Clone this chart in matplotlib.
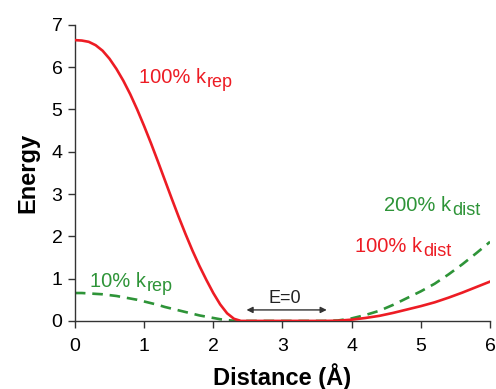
#!/usr/bin/env python3

import matplotlib
matplotlib.use("Agg")
import matplotlib.pyplot as plt

plt.rcParams['font.family'] = ['Liberation Sans', 'DejaVu Sans']

# Repulsive part (left)
x_rep = [0.0, 0.1, 0.2, 0.3, 0.4, 0.5, 0.6, 0.7, 0.8, 0.9, 1.0, 1.1, 1.2,
         1.3, 1.4, 1.5, 1.6, 1.7, 1.8, 1.9, 2.0, 2.1, 2.2, 2.3, 2.4]
red_rep = [6.64, 6.63, 6.60, 6.52, 6.39, 6.20, 5.96, 5.68, 5.36, 5.00, 4.61,
           4.20, 3.77, 3.33, 2.89, 2.46, 2.05, 1.66, 1.30, 0.97, 0.66, 0.39,
           0.18, 0.05, 0.0]
green_rep = [0.66, 0.66, 0.65, 0.64, 0.63, 0.61, 0.59, 0.56, 0.53, 0.50, 0.46,
             0.42, 0.38, 0.33, 0.29, 0.25, 0.21, 0.17, 0.13, 0.10, 0.07, 0.04,
             0.02, 0.005, 0.0]

# Distance restraint part (right)
x_dist = [3.6, 3.8, 4.0, 4.2, 4.4, 4.6, 4.8, 5.0, 5.2, 5.4, 5.6, 5.8, 6.0]
red_dist = [0.0, 0.005, 0.03, 0.07, 0.12, 0.19, 0.27, 0.35, 0.44, 0.55, 0.67,
            0.80, 0.93]
green_dist = [0.0, 0.01, 0.06, 0.14, 0.24, 0.38, 0.54, 0.70, 0.88, 1.10, 1.34,
              1.60, 1.87]

x_all = x_rep + x_dist
red_all = red_rep + red_dist
green_all = green_rep + green_dist

red = "#ED1C24"
green = "#2E9438"
axis_col = "#333333"

fig = plt.figure(figsize=(4.96, 3.89), dpi=100)
ax = fig.add_axes([0.151, 0.175, 0.837, 0.761])

ax.plot(x_all, green_all, color=green, lw=1.9, dashes=(4, 2.6), zorder=2)
ax.plot(x_all, red_all, color=red, lw=1.9, zorder=3)

ax.set_xlim(0, 6)
ax.set_ylim(0, 7)
ax.set_xticks(range(0, 7))
ax.set_yticks(range(0, 8))

for side in ("top", "right"):
    ax.spines[side].set_visible(False)
for side in ("left", "bottom"):
    ax.spines[side].set_color(axis_col)
    ax.spines[side].set_linewidth(1.0)
ax.tick_params(direction="out", length=5, width=1.0, color=axis_col,
               labelsize=14, pad=4)
ax.tick_params(axis="x", pad=7)

ax.set_xlabel("Distance (Å)", fontsize=17, fontweight="bold", labelpad=6)
ax.set_ylabel("Energy", fontsize=17, fontweight="bold", labelpad=9)


def curve_label(x, y, main, sub, color):
    # main text plus a near full size subscript, like the original
    t = ax.text(x, y, main, color=color, fontsize=14.5,
                va="baseline", ha="left")
    ax.annotate(sub, xy=(1, 0), xycoords=t, xytext=(0.6, 0),
                textcoords="offset points", color=color, fontsize=13,
                va="baseline", ha="left")


curve_label(0.93, 5.63, "100% k", "rep", red)
curve_label(0.22, 0.81, "10% k", "rep", green)
curve_label(4.47, 2.61, "200% k", "dist", green)
curve_label(4.05, 1.64, "100% k", "dist", red)

ax.annotate("", xy=(2.48, 0.26), xytext=(3.64, 0.26),
            arrowprops=dict(arrowstyle="<|-|>", color=axis_col, lw=1.0,
                            mutation_scale=9, shrinkA=0, shrinkB=0))
ax.text(3.03, 0.43, "E=0", color="#222222", fontsize=13,
        va="baseline", ha="center")

fig.savefig("out.png", dpi=100)
